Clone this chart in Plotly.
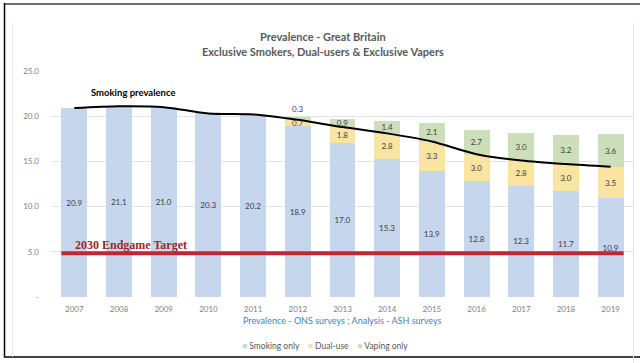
import plotly.graph_objects as go

years = [2007, 2008, 2009, 2010, 2011, 2012, 2013, 2014, 2015, 2016, 2017, 2018, 2019]
smoking_only = [20.9, 21.1, 21.0, 20.3, 20.2, 18.9, 17.0, 15.3, 13.9, 12.8, 12.3, 11.7, 10.9]
dual_use = [0, 0, 0, 0, 0, 0.7, 1.8, 2.8, 3.3, 3.0, 2.8, 3.0, 3.5]
vaping_only = [0, 0, 0, 0, 0, 0.3, 0.9, 1.4, 2.1, 2.7, 3.0, 3.2, 3.6]
endgame_target = 4.85
y_ticks = [0, 5, 10, 15, 20, 25]
y_tick_labels = ["-", "5.0", "10.0", "15.0", "20.0", "25.0"]
series_names = ["Smoking only", "Dual-use", "Vaping only"]

smoking_prevalence = [round(s + d, 1) for s, d in zip(smoking_only, dual_use)]

BAR_W = 0.58
COLORS = ["#C6D6EC", "#FAE4A2", "#CDDFBA"]
FONT = "Lato"
LABEL_FONT = dict(family=FONT, size=8, color="#404040")


def lab(vals):
    return ["" if v == 0 else f"{v:.1f}" for v in vals]


def positions(vals, top):
    # very thin top segments get their label just above the bar so it does not collide
    return ["outside" if (top and 0 < v < 0.5) else "inside" for v in vals]


fig = go.Figure()
all_vals = [smoking_only, dual_use, vaping_only]
for i, (name, vals, col) in enumerate(zip(series_names, all_vals, COLORS)):
    fig.add_trace(go.Bar(
        x=years, y=vals, name=name, marker=dict(color=col, line=dict(width=0)),
        width=BAR_W, text=lab(vals), textposition=positions(vals, i == len(all_vals) - 1),
        insidetextanchor="middle", cliponaxis=False, textangle=0,
        textfont=LABEL_FONT, insidetextfont=LABEL_FONT, outsidetextfont=LABEL_FONT,
        hoverinfo="skip", showlegend=False))

# target line spanning from first bar edge to last bar edge
fig.add_trace(go.Scatter(
    x=[years[0] - BAR_W / 2, years[-1] + BAR_W / 2], y=[endgame_target, endgame_target],
    mode="lines", line=dict(color="#BF2734", width=4), showlegend=False, hoverinfo="skip"))

# smoking prevalence line
fig.add_trace(go.Scatter(
    x=years, y=smoking_prevalence, mode="lines",
    line=dict(color="black", width=2, shape="spline", smoothing=0.8),
    showlegend=False, hoverinfo="skip"))

# coordinate helpers (plot area 52..633 px horizontally, 71..297 px vertically)
L, R, T, B = 52, 633, 71, 297


def px(x):
    return (x - L) / (R - L)


def py(y):
    return (B - y) / (B - T)


def ann(text, x, y, size, color, family=FONT):
    return dict(text=text, x=px(x), y=py(y), xref="paper", yref="paper", xanchor="center",
                yanchor="middle", showarrow=False, font=dict(family=family, size=size, color=color))


legend_text = "&nbsp;&nbsp;&nbsp;&nbsp;".join(
    f"<span style='color:{c}'>■</span> {n}" for n, c in zip(series_names, COLORS))

annotations = [
    ann("<b>Prevalence - Great Britain</b>", 323, 36, 11, "#595959"),
    ann("<b>Exclusive Smokers, Dual-users &amp; Exclusive Vapers</b>", 323, 51, 11, "#595959"),
    ann("Prevalence - ONS surveys ; Analysis - ASH surveys", 342, 320, 9, "#4A7EBB"),
    ann("<b>Smoking prevalence</b>", 133, 92, 9.5, "black"),
    ann("<b>2030 Endgame Target</b>", 131, 245, 12, "#A3232F", "Liberation Serif"),
    ann(legend_text, 325, 346, 8.5, "#595959"),
]

shapes = [
    # outer frame
    dict(type="line", xref="paper", yref="paper", x0=px(4), x1=px(640), y0=py(4), y1=py(4),
         line=dict(color="#6E6E6E", width=2)),
    dict(type="line", xref="paper", yref="paper", x0=px(4.5), x1=px(4.5), y0=py(3), y1=py(357),
         line=dict(color="black", width=1.5)),
    dict(type="line", xref="paper", yref="paper", x0=px(4), x1=px(640), y0=py(357), y1=py(357),
         line=dict(color="black", width=1.5)),
    # inner chart-area edges
    dict(type="line", xref="paper", yref="paper", x0=px(12.5), x1=px(12.5), y0=py(23), y1=py(357),
         line=dict(color="#E6E6E6", width=1)),
    dict(type="line", xref="paper", yref="paper", x0=px(633.5), x1=px(633.5), y0=py(23), y1=py(363),
         line=dict(color="#E3E3E3", width=1)),
]

fig.update_layout(
    width=640, height=363,
    margin=dict(l=L, r=640 - R, t=T, b=363 - B),
    paper_bgcolor="white", plot_bgcolor="white",
    barmode="stack", bargap=0.42,
    font=dict(family=FONT, color="#595959"),
    uniformtext=dict(minsize=8, mode="show"),
    showlegend=False,
    annotations=annotations,
    shapes=shapes,
    xaxis=dict(range=[years[0] - 0.5, years[-1] + 0.5], tickvals=years, ticktext=[str(y) for y in years],
               showgrid=False, zeroline=False, showline=False, ticks="", ticklabelstandoff=6,
               tickfont=dict(family=FONT, size=8, color="#7F7F7F")),
    yaxis=dict(range=[0, 25], tickvals=y_ticks, ticktext=y_tick_labels,
               showgrid=True, gridcolor="#E3E3E3", gridwidth=1, zeroline=False, showline=False,
               ticks="", ticklabelstandoff=12,
               tickfont=dict(family=FONT, size=8, color="#7F7F7F")),
)

fig.write_html("out.html", config={"displayModeBar": False},
               post_script="document.body.style.margin='0';document.body.style.padding='0';")
